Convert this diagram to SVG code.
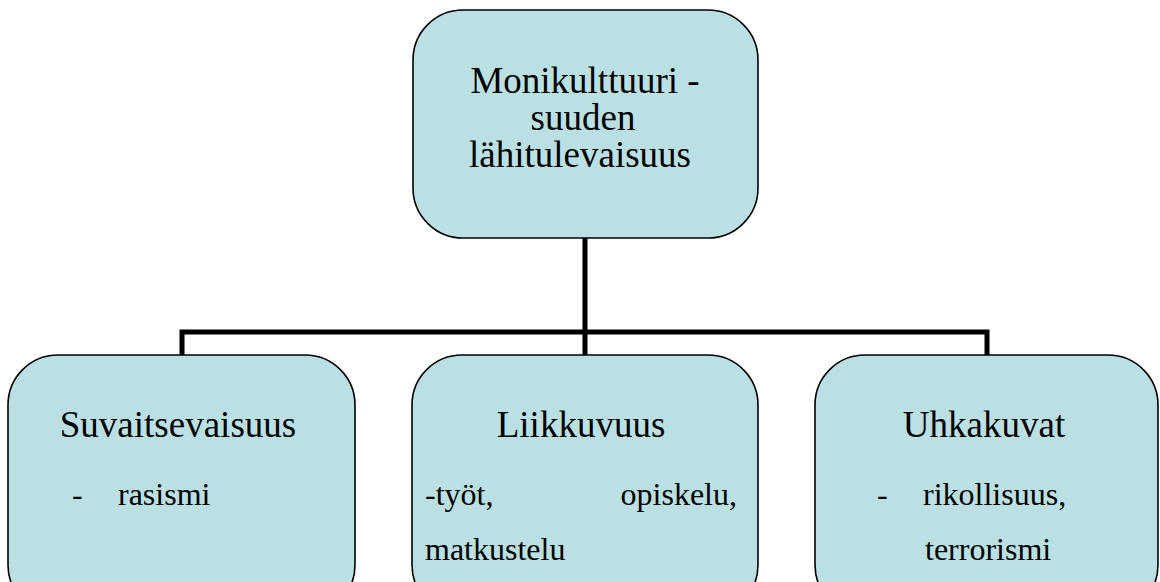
<svg xmlns="http://www.w3.org/2000/svg" width="1160" height="582" viewBox="0 0 1160 582">
<style>
.box{fill:#BBE0E3;stroke:#000;stroke-width:1.6}
.conn{fill:none;stroke:#000;stroke-width:5;stroke-linejoin:miter}
.t{font-family:'Liberation Serif','DejaVu Serif',serif;font-size:37px;fill:#000}
.s{font-family:'Liberation Serif','DejaVu Serif',serif;font-size:32px;fill:#000}
</style>
<rect width="1160" height="582" fill="#fff"/>
<g id="connectors">
<path class="conn" d="M585,238 V332"/>
<path class="conn" d="M182,355 V332 H987 V355"/>
<path class="conn" d="M585,332 V355"/>
</g>
<g id="root">
<rect class="box" x="413" y="10" width="345" height="228" rx="50" ry="50"/>
<text class="t" text-anchor="middle"><tspan x="585" y="93">Monikulttuuri -</tspan><tspan x="583" y="130">suuden</tspan><tspan x="580" y="167">lähitulevaisuus</tspan></text>
</g>
<g id="suvaitsevaisuus">
<rect class="box" x="8" y="355" width="347" height="260" rx="50" ry="50"/>
<text class="t" x="178" y="437" text-anchor="middle">Suvaitsevaisuus</text>
<text class="s" x="72" y="505">-</text>
<text class="s" x="118" y="505">rasismi</text>
</g>
<g id="liikkuvuus">
<rect class="box" x="412" y="355" width="346" height="260" rx="50" ry="50"/>
<text class="t" x="581" y="437" text-anchor="middle">Liikkuvuus</text>
<text class="s" x="425" y="505">-työt,</text>
<text class="s" x="737" y="505" text-anchor="end">opiskelu,</text>
<text class="s" x="425" y="560">matkustelu</text>
</g>
<g id="uhkakuvat">
<rect class="box" x="815" y="355" width="343" height="260" rx="50" ry="50"/>
<text class="t" x="984" y="437" text-anchor="middle">Uhkakuvat</text>
<text class="s" x="877" y="505">-</text>
<text class="s" x="923" y="505">rikollisuus,</text>
<text class="s" x="925" y="560">terrorismi</text>
</g>
</svg>
